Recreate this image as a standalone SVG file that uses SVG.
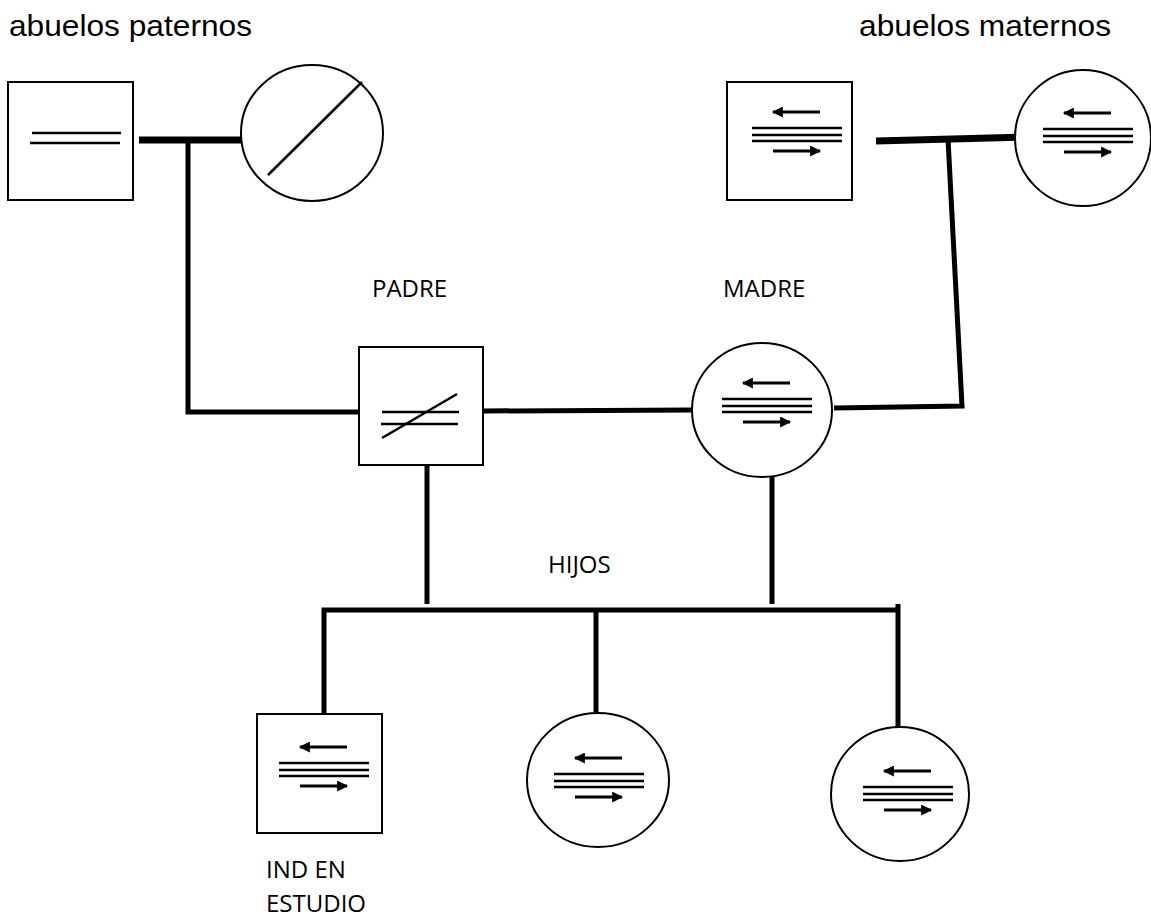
<svg xmlns="http://www.w3.org/2000/svg" width="1151" height="919" viewBox="0 0 1151 919">
<style>
.bg{fill:#fff}
.shape{fill:#fff;stroke:#000;stroke-width:2}
.sym{stroke:#000;stroke-width:2.5;fill:none}
.arr{stroke:#000;stroke-width:3;fill:none}
.thick{stroke:#000;stroke-width:7;fill:none}
.conn{stroke:#000;stroke-width:5;fill:none}
.t1{font-family:"Liberation Sans",Arial,sans-serif;font-size:29px;fill:#000}
.t2{font-family:"Open Sans","Noto Sans",sans-serif;font-size:24px;fill:#000}
</style>
<defs>
<marker id="ah" viewBox="0 0 10 10" refX="9" refY="5" markerUnits="userSpaceOnUse" markerWidth="15" markerHeight="11" orient="auto-start-reverse">
<path d="M0,0 L10,5 L0,10 z" fill="#000"/>
</marker>
<g id="sym3">
<line class="arr" x1="0" y1="-16" x2="47" y2="-16" marker-start="url(#ah)"/>
<line class="sym" x1="-21" y1="0" x2="69" y2="0"/>
<line class="sym" x1="-21" y1="7" x2="69" y2="7"/>
<line class="sym" x1="-21" y1="13" x2="69" y2="13"/>
<line class="arr" x1="0" y1="23" x2="47" y2="23" marker-end="url(#ah)"/>
</g>
</defs>
<rect class="bg" x="0" y="0" width="1151" height="919"/>

<text class="t1" x="9" y="36" textLength="243" lengthAdjust="spacingAndGlyphs">abuelos paternos</text>
<text class="t1" x="859" y="36" textLength="252" lengthAdjust="spacingAndGlyphs">abuelos maternos</text>

<g id="connectors">
<line class="thick" x1="139" y1="140" x2="242" y2="140"/>
<polyline class="conn" points="188,140 188,412 359,412"/>
<line class="thick" x1="876" y1="141" x2="1025" y2="137"/>
<polyline class="conn" points="948,139 962,406 834,408"/>
<line class="conn" x1="483" y1="411" x2="692" y2="410"/>
<line class="conn" x1="427" y1="465" x2="427" y2="604"/>
<line class="conn" x1="772" y1="470" x2="772" y2="604"/>
<polyline class="conn" points="324,714 324,610 898,610"/>
<line class="conn" x1="596" y1="610" x2="596" y2="712"/>
<line class="conn" x1="898" y1="604" x2="898" y2="727"/>
</g>

<g id="abuelo-paterno">
<rect class="shape" x="8" y="82" width="125" height="118"/>
<line class="sym" x1="32" y1="133" x2="121" y2="133"/>
<line class="sym" x1="30" y1="143" x2="120" y2="143"/>
</g>

<g id="abuela-paterna">
<ellipse class="shape" cx="312" cy="133" rx="71" ry="68"/>
<line class="sym" x1="268" y1="175" x2="362" y2="82"/>
</g>

<g id="abuelo-materno">
<rect class="shape" x="727" y="82" width="125" height="118"/>
<use href="#sym3" x="773" y="128"/>
</g>

<g id="abuela-materna">
<ellipse class="shape" cx="1083" cy="138" rx="68" ry="68"/>
<use href="#sym3" x="1064" y="129"/>
</g>

<g id="padre">
<text class="t2" x="372" y="297">PADRE</text>
<rect class="shape" x="359" y="347" width="124" height="118"/>
<line class="sym" x1="382" y1="412" x2="459" y2="412"/>
<line class="sym" x1="381" y1="424" x2="458" y2="424"/>
<line class="sym" x1="382" y1="438" x2="457" y2="394"/>
</g>

<g id="madre">
<text class="t2" x="723" y="297">MADRE</text>
<ellipse class="shape" cx="762" cy="410" rx="70" ry="67"/>
<use href="#sym3" x="743" y="399"/>
</g>

<text class="t2" x="548" y="573">HIJOS</text>

<g id="ind-en-estudio">
<rect class="shape" x="257" y="714" width="125" height="119"/>
<use href="#sym3" x="300" y="763"/>
<text class="t2" x="266" y="878">IND EN</text>
<text class="t2" x="266" y="912">ESTUDIO</text>
</g>

<g id="hija-1">
<ellipse class="shape" cx="598" cy="780" rx="71" ry="67"/>
<use href="#sym3" x="575" y="774"/>
</g>

<g id="hija-2">
<ellipse class="shape" cx="900" cy="794" rx="69" ry="67"/>
<use href="#sym3" x="884" y="787"/>
</g>
</svg>
